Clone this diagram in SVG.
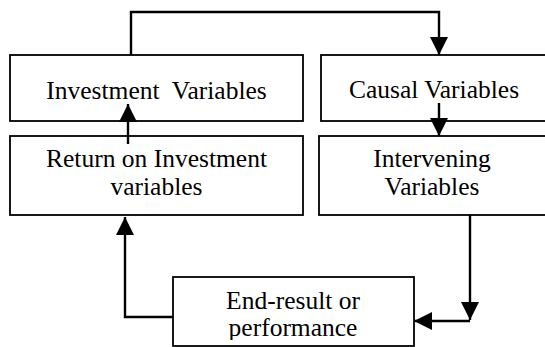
<svg xmlns="http://www.w3.org/2000/svg" width="545" height="347" viewBox="0 0 545 347">
<style>
.box{fill:#fff;stroke:#000;stroke-width:1.8}
.t{font-family:"Liberation Serif","Times New Roman",serif;font-size:25.5px;fill:#000;text-anchor:middle}
.c{fill:none;stroke:#000;stroke-width:2.4}
</style>
<defs>
<marker id="ah" markerUnits="userSpaceOnUse" markerWidth="18" markerHeight="18" viewBox="0 0 16 16" refX="16" refY="8" orient="auto">
<path d="M0,0 L16,8 L0,16 Z" fill="#000"/>
</marker>
<clipPath id="clipEnd"><rect x="0" y="0" width="545" height="340"/></clipPath>
</defs>
<rect width="545" height="347" fill="#fff"/>
<g id="investment">
<rect class="box" x="10" y="55" width="293" height="66"/>
<text class="t" x="156.5" y="99" xml:space="preserve">Investment  Variables</text>
</g>
<g id="return">
<rect class="box" x="10" y="136" width="293" height="79"/>
<text class="t" x="156.5" y="167">Return on Investment</text>
<text class="t" x="156.5" y="195">variables</text>
</g>
<g id="causal">
<rect class="box" x="321" y="55" width="240" height="66"/>
<text class="t" x="434" y="98">Causal Variables</text>
</g>
<g id="intervening">
<rect class="box" x="319" y="136" width="240" height="79"/>
<text class="t" x="432" y="167">Intervening</text>
<text class="t" x="432" y="195">Variables</text>
</g>
<g id="endresult">
<rect class="box" x="173" y="277" width="241" height="69"/>
<g clip-path="url(#clipEnd)">
<text class="t" x="293" y="309">End-result or</text>
<text class="t" x="293" y="336">performance</text>
</g>
</g>
<g id="connectors">
<polyline class="c" points="131,55 131,12 439,12 439,55" marker-end="url(#ah)"/>
<line class="c" x1="439" y1="103" x2="439" y2="136" marker-end="url(#ah)"/>
<line class="c" x1="128" y1="144" x2="128" y2="104" marker-end="url(#ah)"/>
<line class="c" x1="470" y1="215" x2="470" y2="320" marker-end="url(#ah)"/>
<line class="c" x1="470" y1="321" x2="414" y2="321" marker-end="url(#ah)"/>
<polyline class="c" points="173,317 125,317 125,217" marker-end="url(#ah)"/>
</g>
</svg>
